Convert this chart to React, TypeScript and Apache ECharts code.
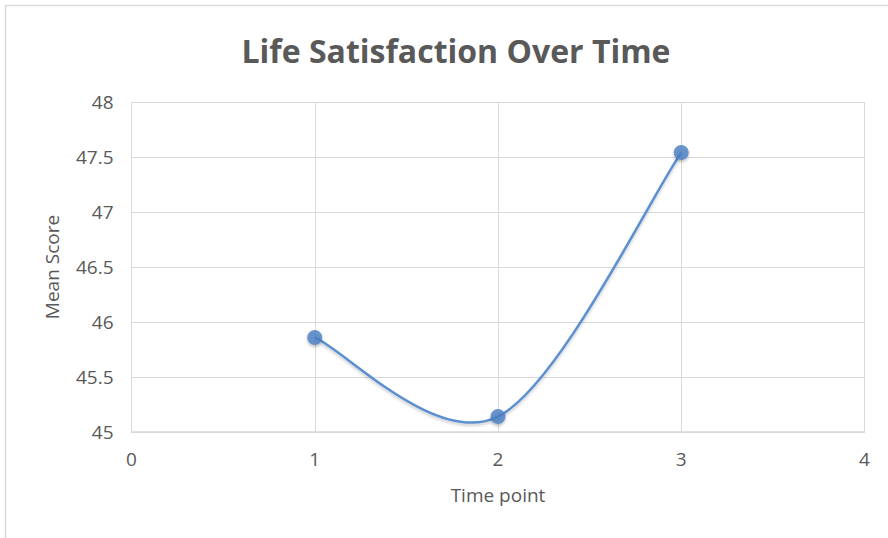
import React, { useEffect, useRef } from "react";
import * as echarts from "echarts";

const titleText = "Life Satisfaction Over Time";
const xAxisName = "Time point";
const yAxisName = "Mean Score";
const timePoints = [1, 2, 3];
const meanScores = [45.86, 45.14, 47.54];

const FONT = "'Open Sans', 'Noto Sans', sans-serif";
const TEXT = "#595959";
const GRID = "#d9d9d9";
const LINE = "#5b8fd0";
const MARK = "#4a80c4";

export default function App() {
  const ref = useRef<HTMLDivElement>(null);
  useEffect(() => {
    if (!ref.current) return;
    const chart = echarts.init(ref.current, undefined, { renderer: "svg" });
    const pts = timePoints.map((t, i) => [t, meanScores[i]]);

    // Excel-style smoothed line (Catmull-Rom -> cubic Bezier) built from axis coordinates
    const renderCurve = (params: any, api: any) => {
      if (params.dataIndex !== 0) return null;
      const P = pts.map((p) => api.coord(p));
      const n = P.length;
      let d = `M${P[0][0]},${P[0][1]}`;
      for (let i = 0; i < n - 1; i++) {
        const p0 = P[Math.max(i - 1, 0)];
        const p1 = P[i];
        const p2 = P[i + 1];
        const p3 = P[Math.min(i + 2, n - 1)];
        const c1x = p1[0] + (p2[0] - p0[0]) / 6;
        const c1y = p1[1] + (p2[1] - p0[1]) / 6;
        const c2x = p2[0] - (p3[0] - p1[0]) / 6;
        const c2y = p2[1] - (p3[1] - p1[1]) / 6;
        d += ` C${c1x},${c1y} ${c2x},${c2y} ${p2[0]},${p2[1]}`;
      }
      return {
        type: "path",
        shape: { pathData: d },
        style: {
          fill: "none",
          stroke: LINE,
          lineWidth: 2.5,
          shadowColor: "rgba(0,0,0,0.22)",
          shadowBlur: 3,
          shadowOffsetY: 2,
        },
        silent: true,
      };
    };

    chart.setOption({
      animation: false,
      backgroundColor: "#ffffff",
      title: {
        text: titleText,
        left: 451,
        textAlign: "center",
        top: 29,
        textStyle: { fontFamily: FONT, fontSize: 32, fontWeight: "bold", color: TEXT },
      },
      graphic: [
        {
          type: "rect",
          shape: { x: 5.5, y: 5.5, width: 1000, height: 1000 },
          style: { fill: "none", stroke: "#d9d9d9", lineWidth: 1.5 },
          silent: true,
        },
      ],
      grid: { left: 131.5, right: 23.5, top: 102, bottom: 106, containLabel: false },
      xAxis: {
        type: "value",
        min: 0,
        max: 4,
        interval: 1,
        name: xAxisName,
        nameLocation: "middle",
        nameGap: 53,
        nameTextStyle: { fontFamily: FONT, fontSize: 19, color: TEXT },
        axisLine: { show: true, lineStyle: { color: GRID, width: 1.5 } },
        axisTick: { show: false },
        axisLabel: { fontFamily: FONT, fontSize: 19, color: TEXT, margin: 17 },
        splitLine: { show: true, lineStyle: { color: GRID, width: 1 } },
      },
      yAxis: {
        type: "value",
        min: 45,
        max: 48,
        interval: 0.5,
        name: yAxisName,
        nameLocation: "middle",
        nameGap: 70,
        nameRotate: 90,
        nameTextStyle: { fontFamily: FONT, fontSize: 19, color: TEXT },
        axisLine: { show: false },
        axisTick: { show: false },
        axisLabel: { fontFamily: FONT, fontSize: 19, color: TEXT, margin: 18 },
        splitLine: { show: true, lineStyle: { color: GRID, width: 1 } },
      },
      series: [
        {
          type: "custom",
          renderItem: renderCurve,
          data: pts,
          z: 2,
        },
        {
          type: "scatter",
          data: pts,
          symbol: "circle",
          symbolSize: 15,
          z: 3,
          itemStyle: { color: MARK, shadowColor: "rgba(0,0,0,0.3)", shadowBlur: 3, shadowOffsetY: 2 },
        },
      ],
    });
    return () => chart.dispose();
  }, []);
  return (
    <div
      ref={ref}
      style={{ position: "fixed", left: 0, top: 0, width: 888, height: 538, background: "#fff" }}
    />
  );
}
